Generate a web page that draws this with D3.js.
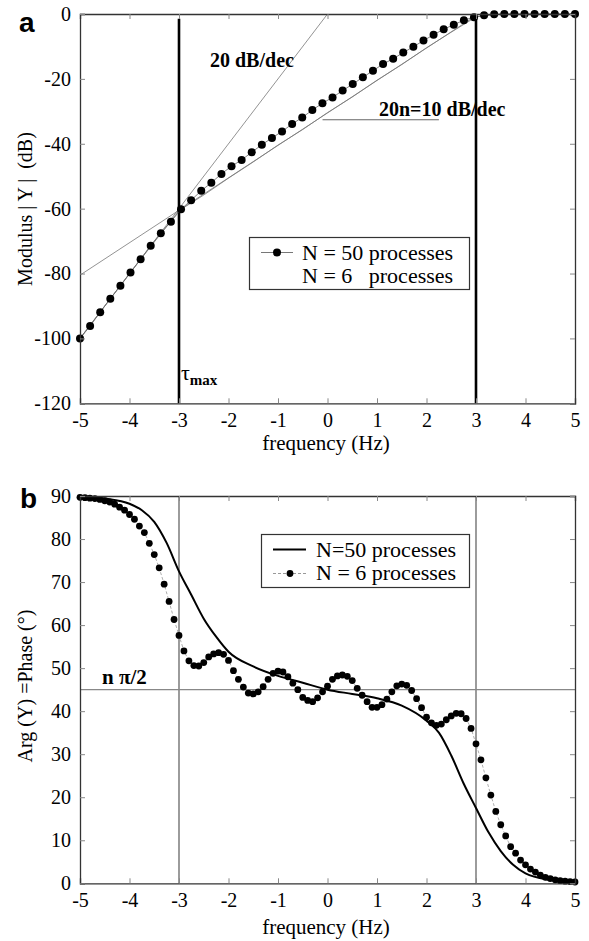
<!DOCTYPE html>
<html>
<head>
<meta charset="utf-8">
<script src="https://cdn.jsdelivr.net/npm/d3@7"></script>
<style>
  body { margin: 0; background: #fff; }
  svg { display: block; }
  text { font-family: "Liberation Serif", "DejaVu Serif", serif; }
</style>
</head>
<body>
<svg width="589" height="941"></svg>
<script>
// ---- data ----
var xTicks = [-5, -4, -3, -2, -1, 0, 1, 2, 3, 4, 5];
var modTicks = [0, -20, -40, -60, -80, -100, -120];
var phaseTicks = [90, 80, 70, 60, 50, 40, 30, 20, 10, 0];

// panel a : N = 50 processes, 50 points from -5 to 5
var modN50 = [-100, -96.2, -91.9, -87.8, -83.8, -79.7, -75.6, -71.4, -67.6, -64.0,
              -60.2, -57.4, -54.5, -52.0, -49.3, -46.9, -45.0, -42.6, -40.3, -38.2,
              -36.2, -33.9, -31.9, -29.6, -27.5, -25.7, -23.6, -21.6, -19.5, -17.5,
              -15.4, -13.8, -11.9, -10.1, -8.2, -6.4, -4.7, -3.3, -1.9, -1.0,
              -0.4, -0.1, 0, 0, 0, 0, 0, 0, 0, 0];
// panel a : N = 6 processes (thin line)
var modN6x = [-5, -4, -3, -2.5, -2, -1.5, -1, -0.5, 0, 0.5, 1, 1.5, 2, 2.5, 3, 3.5, 4, 5];
var modN6y = [-100, -80, -60.6, -55.8, -50.6, -45.6, -40.4, -35.6, -30.4, -25.6, -20.4, -15.6, -10.4, -5.6, -0.9, 0, 0, 0];
// asymptotes
var asym20 = [[-5, -100], [0, 0]];
var asym10 = [[-5, -80.5], [3, -0.5]];

// panel b : N = 50 processes (solid line)
var phN50x = [-5, -4.5, -4, -3.75, -3.5, -3.25, -3, -2.75, -2.5, -2.25, -2, -1.5, -1, -0.5, 0,
              0.5, 1, 1.5, 2, 2.25, 2.5, 2.75, 3, 3.25, 3.5, 3.75, 4, 4.5, 5];
var phN50y = [89.9, 89.4, 88.2, 86.7, 84.0, 79.1, 72.5, 67.0, 61.5, 57.3, 53.8, 50.4, 48.2, 46.6, 45.0,
              44.0, 43.0, 41.3, 37.8, 35.0, 29.7, 23.2, 17.5, 11.9, 7.5, 4.3, 2.3, 0.8, 0.3];
// panel b : N = 6 processes (dots), 101 points from -5 to 5 step 0.1
var phN6 = [89.7, 89.6, 89.5, 89.4, 89.2, 88.9, 88.6, 88.1, 87.4, 86.7,
            85.7, 84.6, 83.0, 81.5, 79.0, 76.4, 73.3, 69.5, 65.5, 61.3,
            57.6, 54.0, 51.7, 50.6, 50.5, 51.3, 52.6, 53.3, 53.6, 53.2,
            51.8, 49.4, 47.4, 45.6, 44.2, 44.0, 44.5, 45.7, 47.4, 48.8,
            49.3, 49.1, 48.0, 46.5, 45.0, 43.2, 42.5, 42.2, 43.1, 44.5,
            45.8, 47.4, 48.2, 48.4, 48.1, 47.1, 45.3, 43.7, 42.2, 40.9,
            40.9, 41.5, 42.8, 44.5, 45.9, 46.3, 46.0, 44.8, 42.9, 40.8,
            38.6, 37.3, 36.7, 37.0, 38.0, 38.9, 39.5, 39.4, 38.3, 36.0,
            32.4, 28.7, 24.5, 20.5, 16.7, 13.6, 11.0, 8.5, 7.0, 5.4,
            4.3, 3.3, 2.6, 1.9, 1.4, 1.1, 0.8, 0.6, 0.5, 0.4, 0.3];

var svg = d3.select("svg");
var x = d3.scaleLinear().domain([-5, 5]).range([80, 575]);
var plain = function(d) { return String(d); };   // hyphen minus like the original

function frame(y, yTicks, labelY) {
  var g = svg.append("g");
  var y0 = y.range()[0], y1 = y.range()[1];
  g.append("g").attr("transform", "translate(0," + y0 + ")")
    .call(d3.axisBottom(x).tickValues(xTicks).tickSize(-5).tickPadding(10).tickFormat(plain));
  g.append("g").attr("transform", "translate(0," + y1 + ")")
    .call(d3.axisTop(x).tickValues(xTicks).tickSize(-5).tickFormat(""));
  g.append("g").attr("transform", "translate(80,0)")
    .call(d3.axisLeft(y).tickValues(yTicks).tickSize(-5).tickPadding(9).tickFormat(plain));
  g.append("g").attr("transform", "translate(575,0)")
    .call(d3.axisRight(y).tickValues(yTicks).tickSize(-5).tickFormat(""));
  g.selectAll("g").attr("font-family", "Liberation Serif").attr("font-size", 20);
  g.selectAll(".domain").attr("stroke", "#333").attr("stroke-width", 1.3);
  g.selectAll(".tick line").attr("stroke", "#888");
  g.selectAll(".tick text").attr("fill", "#000");
  svg.append("text").attr("x", 326).attr("y", labelY).attr("text-anchor", "middle")
    .attr("font-size", 21).text("frequency (Hz)");
}

// ---------------- panel a ----------------
var ya = d3.scaleLinear().domain([-120, 0]).range([403.3, 14]);
var line = d3.line().x(function(d) { return x(d[0]); }).y(function(d) { return ya(d[1]); });

[asym20, asym10].forEach(function(a) {
  svg.append("path").attr("d", line(a)).attr("fill", "none").attr("stroke", "#777").attr("stroke-width", 0.8);
});
svg.append("path").attr("d", line(modN6x.map(function(v, i) { return [v, modN6y[i]]; })))
  .attr("fill", "none").attr("stroke", "#777").attr("stroke-width", 0.8);

// leader under the 10 dB/dec label
svg.append("line").attr("x1", x(-0.1)).attr("x2", x(2.25)).attr("y1", ya(-32.6)).attr("y2", ya(-32.6))
  .attr("stroke", "#666").attr("stroke-width", 1);

// tau_max and upper limit
svg.append("line").attr("x1", x(-3)).attr("x2", x(-3)).attr("y1", ya(-1.5)).attr("y2", ya(-120))
  .attr("stroke", "#000").attr("stroke-width", 2.6);
svg.append("line").attr("x1", x(3)).attr("x2", x(3)).attr("y1", ya(-0.8)).attr("y2", ya(-120))
  .attr("stroke", "#000").attr("stroke-width", 2.6);

var n50 = modN50.map(function(v, i) { return [-5 + i * 10 / 49, v]; });
svg.append("path").attr("d", line(n50)).attr("fill", "none").attr("stroke", "#666").attr("stroke-width", 0.8);
svg.selectAll("circle.a").data(n50).enter().append("circle").attr("class", "a")
  .attr("cx", function(d) { return x(d[0]); }).attr("cy", function(d) { return ya(d[1]); })
  .attr("r", 4).attr("fill", "#000");

frame(ya, modTicks, 450);

svg.append("text").attr("x", 210).attr("y", 67).attr("font-size", 20).attr("font-weight", "bold").text("20 dB/dec");
svg.append("text").attr("x", 379).attr("y", 116).attr("font-size", 20).attr("font-weight", "bold").text("20n=10 dB/dec");
var tau = svg.append("text").attr("x", 181).attr("y", 380).attr("font-size", 22);
tau.append("tspan").text("τ");
tau.append("tspan").attr("dy", 5).attr("font-size", 15).attr("font-weight", "bold").text("max");

svg.append("text").attr("transform", "translate(32,209) rotate(-90)").attr("text-anchor", "middle")
  .attr("font-size", 20).attr("xml:space", "preserve").text("Modulus | Y |  (dB)");

// legend a
svg.append("rect").attr("x", 249.5).attr("y", 237.5).attr("width", 220).attr("height", 52)
  .attr("fill", "#fff").attr("stroke", "#333").attr("stroke-width", 1.2);
svg.append("line").attr("x1", 261).attr("x2", 293).attr("y1", 252.5).attr("y2", 252.5).attr("stroke", "#777");
svg.append("circle").attr("cx", 277).attr("cy", 252.5).attr("r", 4).attr("fill", "#000");
svg.append("text").attr("x", 302).attr("y", 260).attr("font-size", 22).text("N = 50 processes");
svg.append("text").attr("x", 302).attr("y", 283).attr("font-size", 22).attr("xml:space", "preserve").text("N = 6   processes");

svg.append("text").attr("x", 19).attr("y", 32).attr("font-size", 28).attr("font-weight", "bold")
  .attr("font-family", "Liberation Sans").style("font-family", "Liberation Sans").text("a");

// ---------------- panel b ----------------
var yb = d3.scaleLinear().domain([0, 90]).range([883.3, 496]);
var lineB = d3.line().x(function(d) { return x(d[0]); }).y(function(d) { return yb(d[1]); });

[-3, 3].forEach(function(v) {
  svg.append("line").attr("x1", x(v)).attr("x2", x(v)).attr("y1", yb(0)).attr("y2", yb(90))
    .attr("stroke", "#666").attr("stroke-width", 1.3);
});
svg.append("line").attr("x1", x(-5)).attr("x2", x(5)).attr("y1", yb(45)).attr("y2", yb(45))
  .attr("stroke", "#888").attr("stroke-width", 1.3);

var n6 = phN6.map(function(v, i) { return [-5 + i * 0.1, v]; });
svg.append("path").attr("d", lineB(n6)).attr("fill", "none").attr("stroke", "#999")
  .attr("stroke-width", 0.8).attr("stroke-dasharray", "3,2");
svg.append("path").attr("d", lineB.curve(d3.curveMonotoneX)(phN50x.map(function(v, i) { return [v, phN50y[i]]; })))
  .attr("fill", "none").attr("stroke", "#000").attr("stroke-width", 2);
svg.selectAll("circle.b").data(n6).enter().append("circle").attr("class", "b")
  .attr("cx", function(d) { return x(d[0]); }).attr("cy", function(d) { return yb(d[1]); })
  .attr("r", 3.4).attr("fill", "#000");

frame(yb, phaseTicks, 934);

svg.append("text").attr("x", 102).attr("y", 684).attr("font-size", 21).attr("font-weight", "bold")
  .attr("xml:space", "preserve").text("n π/2");

svg.append("text").attr("transform", "translate(32,686) rotate(-90)").attr("text-anchor", "middle")
  .attr("font-size", 20).text("Arg (Y) =Phase (°)");

// legend b
svg.append("rect").attr("x", 261.5).attr("y", 534.5).attr("width", 208).attr("height", 53)
  .attr("fill", "#fff").attr("stroke", "#333").attr("stroke-width", 1.2);
svg.append("line").attr("x1", 273).attr("x2", 306).attr("y1", 549.5).attr("y2", 549.5)
  .attr("stroke", "#000").attr("stroke-width", 2);
svg.append("line").attr("x1", 273).attr("x2", 306).attr("y1", 573.5).attr("y2", 573.5)
  .attr("stroke", "#999").attr("stroke-dasharray", "3,2");
svg.append("circle").attr("cx", 290).attr("cy", 573.5).attr("r", 3.4).attr("fill", "#000");
svg.append("text").attr("x", 316).attr("y", 557).attr("font-size", 22).text("N=50 processes");
svg.append("text").attr("x", 316).attr("y", 580).attr("font-size", 22).text("N = 6 processes");

svg.append("text").attr("x", 20).attr("y", 508).attr("font-size", 28).attr("font-weight", "bold")
  .attr("font-family", "Liberation Sans").style("font-family", "Liberation Sans").text("b");
</script>
</body>
</html>
